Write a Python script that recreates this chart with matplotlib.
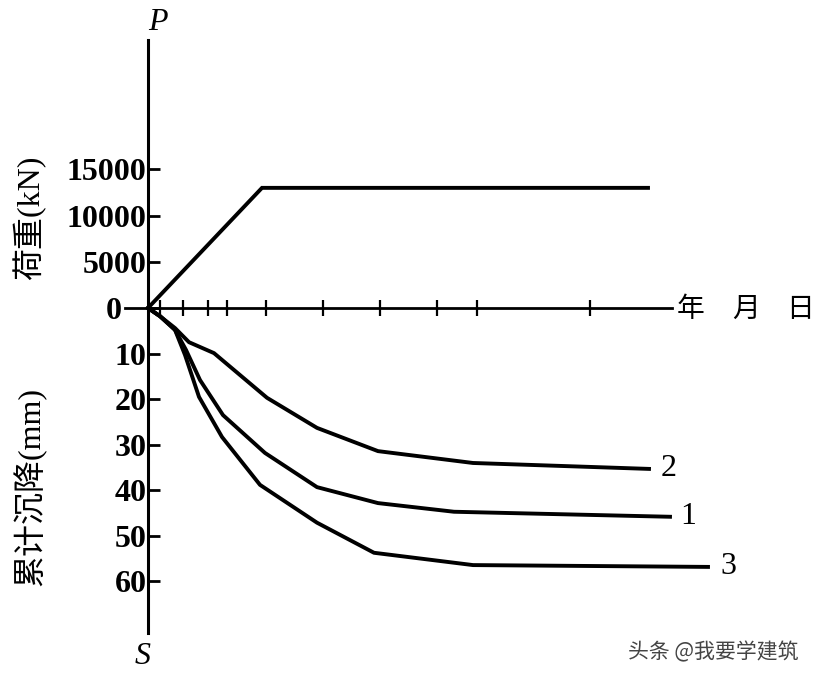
import matplotlib.pyplot as plt
from matplotlib.transforms import ScaledTranslation

plt.rcParams['font.family'] = ['Liberation Serif', 'Noto Sans CJK SC', 'DejaVu Sans']

# time axis (arbitrary units, no labels in the original)
time_ticks = [1.2, 3.5, 6.0, 7.9, 11.8, 17.5, 23.2, 28.9, 32.9, 44.2]

# load history (kN)
load_t = [0, 11.4, 50.0]
load_p = [0, 13000, 13000]

# cumulative settlement (mm) of three piles
s1_t = [0, 1.2, 2.7, 3.8, 5.2, 7.5, 11.7, 16.9, 23.0, 30.6, 52.2]
s1 = [0, 1.8, 4.8, 9.2, 15.8, 23.5, 31.8, 39.3, 42.8, 44.7, 45.8]
s2_t = [0, 1.2, 2.7, 4.1, 6.6, 11.9, 16.9, 23.0, 32.5, 50.1]
s2 = [0, 1.8, 4.4, 7.5, 9.9, 19.7, 26.3, 31.4, 34.0, 35.3]
s3_t = [0, 1.2, 2.7, 3.7, 5.1, 7.4, 11.2, 16.9, 22.6, 32.5, 56.0]
s3 = [0, 1.8, 4.8, 10.3, 19.5, 28.3, 38.8, 47.1, 53.7, 56.4, 56.8]

load_ticks = [5000, 10000, 15000]
settle_ticks = [0, 10, 20, 30, 40, 50, 60]

W, H = 819, 681
fig = plt.figure(figsize=(W / 100, H / 100), dpi=100)

x0, x1 = 125, 672
ax_p = fig.add_axes([x0 / W, 1 - 308 / H, (x1 - x0) / W, (308 - 40) / H])
ax_s = fig.add_axes([x0 / W, 1 - 633 / H, (x1 - x0) / W, (633 - 308) / H], sharex=ax_p)

for ax in (ax_p, ax_s):
    ax.set_xlim(-2.3, 52.4)
    ax.patch.set_alpha(0)
    ax.spines['right'].set_visible(False)
    ax.spines['top'].set_visible(False)
    ax.spines['left'].set_position(('data', 0))
    ax.spines['left'].set_linewidth(2.2)
    ax.tick_params(axis='y', direction='in', length=8.5, width=2, pad=1)

# load part
ax_p.set_ylim(0, 29000)
ax_p.set_yticks(load_ticks)
ax_p.set_yticklabels([str(v) for v in load_ticks], fontweight='bold', fontsize=23)
ax_p.spines['bottom'].set_linewidth(2)
ax_p.set_xticks(time_ticks)
ax_p.tick_params(axis='x', direction='inout', length=11, width=1.6, labelbottom=False)
ax_p.plot(load_t, load_p, color='black', lw=2.8, solid_joinstyle='miter')

# settlement part
ax_s.set_ylim(71.3, 0)
ax_s.set_yticks(settle_ticks)
ax_s.set_yticklabels([str(v) for v in settle_ticks], fontweight='bold', fontsize=23)
zero_lab = ax_s.get_yticklabels()[0]
zero_lab.set_transform(zero_lab.get_transform() + ScaledTranslation(-0.25, 0, fig.dpi_scale_trans))
ax_s.spines['bottom'].set_visible(False)
ax_s.tick_params(axis='x', bottom=False, labelbottom=False)
for t, s in ((s1_t, s1), (s2_t, s2), (s3_t, s3)):
    ax_s.plot(t, s, color='black', lw=2.8, clip_on=False)

ax_s.text(s2_t[-1] + 1.2, s2[-1], '2', fontsize=23, va='center', ha='left')
ax_s.text(s1_t[-1] + 1.0, s1[-1], '1', fontsize=23, va='center', ha='left')
ax_s.text(s3_t[-1] + 1.2, s3[-1], '3', fontsize=23, va='center', ha='left')

# axis letters and labels
cjk = ['Liberation Serif', 'Noto Sans CJK SC', 'DejaVu Sans']
fig.text(158 / W, 1 - 22 / H, 'P', fontsize=23, style='italic', ha='center', va='center')
fig.text(143 / W, 1 - 657 / H, 'S', fontsize=23, style='italic', ha='center', va='center')
fig.text(691 / W, 1 - 309 / H, '年', fontsize=20, ha='center', va='center', family='Noto Sans CJK SC')
fig.text(746 / W, 1 - 309 / H, '月', fontsize=20, ha='center', va='center', family='Noto Sans CJK SC')
fig.text(800 / W, 1 - 309 / H, '日', fontsize=20, ha='center', va='center', family='Noto Sans CJK SC')
fig.text(30 / W, 1 - 218 / H, '荷重(kN)', fontsize=23, rotation=90,
         ha='center', va='center', family=cjk)
fig.text(30 / W, 1 - 487 / H, '累计沉降(mm)', fontsize=23, rotation=90,
         ha='center', va='center', family=cjk)
fig.text(713 / W, 1 - 652 / H, '头条 @我要学建筑', fontsize=15, color='#444444', ha='center', va='center',
         family=['Noto Sans CJK SC', 'DejaVu Sans'])

fig.savefig('out.png', dpi=100)
